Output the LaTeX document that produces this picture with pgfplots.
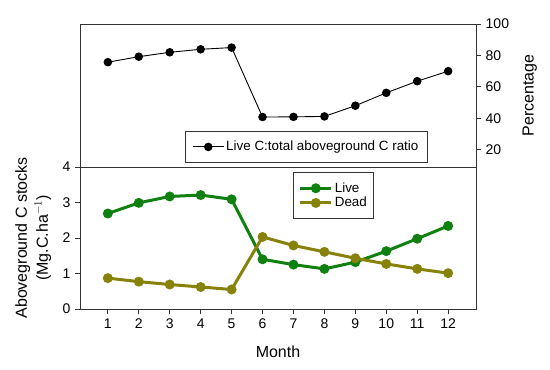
\documentclass[border=0pt]{standalone}
\usepackage{fontspec}
\setmainfont{Liberation Sans}
\usepackage{pgfplots}
\pgfplotsset{compat=1.18}
\definecolor{livec}{RGB}{16,128,16}
\definecolor{deadc}{RGB}{135,130,10}
\newcommand{\lblfont}{\fontsize{16bp}{21bp}\selectfont}
\begin{document}
\fontsize{13.5bp}{16bp}\selectfont
\begin{tikzpicture}
\path[use as bounding box] (0bp,0bp) rectangle (550bp,-370bp);
\pgfplotsset{
  every axis/.append style={
    scale only axis, width=396bp,
    xmin=0.1, xmax=12.9,
    /pgf/number format/assume math mode=true,
    tick align=outside, major tick length=5bp,
    axis line style={line width=0.8bp, black!80},
    tick style={line width=0.8bp, black!80},
    tick label style={font=\fontsize{14bp}{16bp}\selectfont},
    legend style={font=\fontsize{13.4bp}{15.4bp}\selectfont, draw=black!80, line width=0.8bp},
    legend image code/.code={\draw[mark repeat=2,mark phase=2] plot coordinates {(0bp,0bp) (15.5bp,0bp) (31bp,0bp)};},
  }
}
% top panel
\begin{axis}[
  at={(80bp,-167bp)}, anchor=south west,
  height=143bp,
  ymin=9, ymax=100,
  xtick=\empty,
  ytick={20,40,60,80,100},
  ytick pos=right, yticklabel pos=right,
  ylabel={Percentage},
  every axis y label/.style={at={(axis description cs:1.136,0.5)}, rotate=90, anchor=center, font=\lblfont},
  legend style={at={(0.265,0.254)}, anchor=north west, inner xsep=7bp, inner ysep=8bp, legend cell align=left},
]
\addplot[black, line width=0.9bp, mark=*, mark size=3.8bp, mark options={solid}] coordinates {
(1,75.7) (2,79.2) (3,82.0) (4,83.9) (5,85.0) (6,40.8) (7,40.9) (8,41.2) (9,48.0) (10,56.2) (11,63.6) (12,70.0)};
\addlegendentry{Live C:total aboveground C ratio}
\end{axis}
% bottom panel
\begin{axis}[
  at={(80bp,-309bp)}, anchor=south west,
  height=142bp,
  ymin=0, ymax=4,
  xtick={1,...,12},
  ytick={0,1,2,3,4},
  xtick pos=bottom, ytick pos=left,
  xlabel={Month},
  every axis x label/.style={at={(axis description cs:0.5,-0.303)}, anchor=center, font=\lblfont},
  ylabel={Aboveground C stocks\\(Mg.C.ha$^{-1}$)},
  every axis y label/.style={at={(axis description cs:-0.118,0.5)}, rotate=90, anchor=center, align=center, font=\lblfont},
  legend style={at={(0.539,0.965)}, anchor=north west, inner xsep=5bp, inner ysep=8bp, legend cell align=left, row sep=-1bp},
]
\addplot[livec, line width=3bp, mark=*, mark size=3.4bp] coordinates {
(1,2.69) (2,2.99) (3,3.17) (4,3.21) (5,3.09) (6,1.40) (7,1.25) (8,1.13) (9,1.32) (10,1.63) (11,1.98) (12,2.34)};
\addlegendentry{Live}
\addplot[deadc, line width=3bp, mark=*, mark size=3.4bp] coordinates {
(1,0.87) (2,0.77) (3,0.69) (4,0.62) (5,0.55) (6,2.03) (7,1.79) (8,1.61) (9,1.43) (10,1.27) (11,1.13) (12,1.01)};
\addlegendentry{Dead}
\end{axis}
\end{tikzpicture}
\end{document}
